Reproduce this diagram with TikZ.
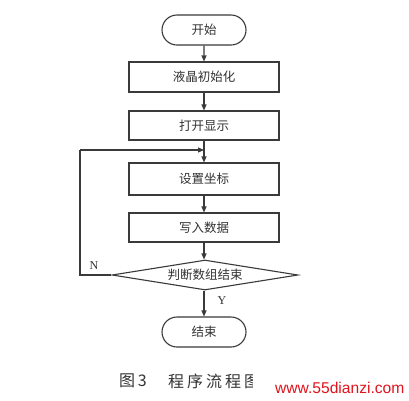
\documentclass[tikz,border=0pt]{standalone}
\usepackage{fontspec}
\setmainfont{Liberation Serif}
\newfontfamily\cjk{Noto Sans CJK SC}
\usetikzlibrary{shapes.misc,shapes.geometric,arrows.meta}
\definecolor{ln}{HTML}{3A3A3A}
\definecolor{tx}{HTML}{333333}
\definecolor{wm}{HTML}{E0141E}
\tikzset{
  flowline/.style={draw=ln, line width=1.1pt},
  arr/.style={flowline, -{Triangle[length=6pt,width=5pt]}},
  procbox/.style={draw=ln, line width=1.1pt, rectangle, minimum width=150pt, minimum height=30pt, inner sep=0pt, font=\cjk\fontsize{12.5}{14}\selectfont, text=tx},
  termbox/.style={draw=ln, line width=1.1pt, rounded rectangle, minimum width=84pt, minimum height=30pt, inner sep=0pt, font=\cjk\fontsize{12.5}{14}\selectfont, text=tx},
  decbox/.style={draw=ln, line width=1.1pt, diamond, shape aspect=6, minimum width=186pt, minimum height=30pt, inner sep=0pt, font=\cjk\fontsize{12.5}{14}\selectfont, text=tx},
  lbl/.style={font=\fontsize{12}{14}\selectfont, text=tx, inner sep=0pt},
  captxt/.style={anchor=west, inner sep=0pt, font=\cjk\fontsize{16}{18}\selectfont, text=tx}
}
\begin{document}
\begin{tikzpicture}[x=1pt,y=-1pt]
\useasboundingbox[fill=white] (0,0) rectangle (409,400);
\node[termbox] (start) at (204,30) {开始};
\node[procbox] (init) at (204,77) {液晶初始化};
\node[procbox, minimum height=29pt] (disp) at (204,125.5) {打开显示};
\node[procbox, minimum height=32pt] (setc) at (204,179) {设置坐标};
\node[procbox, minimum height=29pt] (write) at (204,227.5) {写入数据};
\node[decbox] (dec) at (205,275) {判断数组结束};
\node[termbox] (end) at (204,332) {结束};
\coordinate (merge) at (204,150);
\coordinate (lb) at (80,275);
\coordinate (lt) at (80,150);
\draw[arr] (start) -- (init);
\draw[arr] (init) -- (disp);
\draw[flowline] (disp.south) -- (merge);
\draw[arr] (merge) -- (setc.north);
\draw[arr] (setc) -- (write);
\draw[arr] (write.south) -- (write.south |- dec.north);
\draw[arr] (dec.south -| end.north) -- (end.north);
\draw[flowline] (dec.west) -- (lb) -- (lt);
\draw[arr] (lt) -- (merge);
\node[lbl] (nl) at (94,266) {N};
\node[lbl] (yl) at (222,301) {Y};
\node[captxt] (cap1) at (119,381) {图\,3};
\node[captxt] (cap2) at (168,381) {程\hspace{3pt}序\hspace{3pt}流\hspace{3pt}程\hspace{3pt}图};
\node[anchor=west, fill=white, inner xsep=0pt, inner ysep=10pt, text=wm, font=\fontspec{Liberation Sans}\fontsize{15.6}{17}\selectfont] (wmk) at (253,388) {\hspace{22pt}www.55dianzi.com};
\end{tikzpicture}
\end{document}
